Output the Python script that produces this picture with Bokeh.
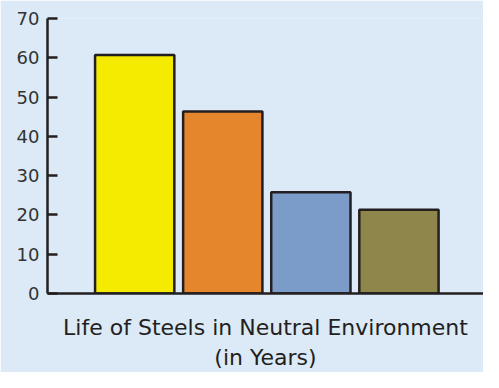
from bokeh.plotting import figure
from bokeh.models import Range1d, FixedTicker, ColumnDataSource
from bokeh.embed import file_html
from bokeh.resources import INLINE

# Data
steels = ["Steel A", "Steel B", "Steel C", "Steel D"]
life_years = [60.7, 46.3, 25.8, 21.3]
bar_colors = ["#f5eb00", "#e5862d", "#7b9bc9", "#8f864b"]
y_ticks = [0, 10, 20, 30, 40, 50, 60, 70]
x_label = "Life of Steels in Neutral Environment\n(in Years)"

BG = "#dce9f6"
INK = "#231f20"
FONT = "DejaVu Sans"

positions = [i + 1 for i in range(len(steels))]
src = ColumnDataSource(dict(x=positions, top=life_years, color=bar_colors, name=steels))

p = figure(width=483, height=372, output_backend="svg", toolbar_location=None,
           x_range=Range1d(0.01, 4.96), y_range=Range1d(0, 70),
           min_border_left=47, min_border_right=0, min_border_top=18, min_border_bottom=78)

p.vbar(x="x", top="top", width=0.9, bottom=0, source=src, fill_color="color",
       line_color=INK, line_width=2.5)

p.background_fill_color = BG
p.border_fill_color = BG
p.outline_line_color = None
p.xgrid.visible = False
p.ygrid.visible = False

ya = p.yaxis[0]
ya.ticker = FixedTicker(ticks=y_ticks)
ya.minor_tick_line_color = None
ya.major_tick_in = 10
ya.major_tick_out = 0
ya.axis_line_width = 2.5
ya.axis_line_color = INK
ya.major_tick_line_width = 2.5
ya.major_tick_line_color = INK
ya.major_label_text_font = FONT
ya.major_label_text_font_size = "18px"
ya.major_label_text_color = "#333333"
ya.major_label_standoff = 8

xa = p.xaxis[0]
xa.ticker = FixedTicker(ticks=[])
xa.axis_line_width = 2.5
xa.axis_line_color = INK
xa.major_tick_line_color = None
xa.minor_tick_line_color = None
xa.major_tick_out = 0
xa.major_tick_in = 0
xa.major_label_standoff = 0
xa.axis_label = x_label
xa.axis_label_text_font = FONT
xa.axis_label_text_font_size = "22px"
xa.axis_label_text_font_style = "normal"
xa.axis_label_text_line_height = 1.2
xa.axis_label_text_color = INK
xa.axis_label_standoff = 21

open("out.html", "w").write(file_html(p, INLINE))
